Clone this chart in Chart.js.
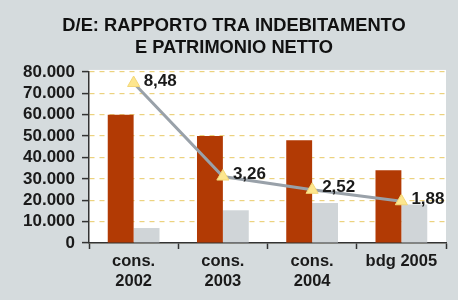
<!DOCTYPE html>
<html><head><meta charset="utf-8">
<script src="https://cdn.jsdelivr.net/npm/chart.js@4"></script>
<style>html,body{margin:0;padding:0;background:#d5dbdd;}canvas{display:block}</style>
</head><body>
<canvas id="c" width="458" height="300"></canvas>
<script>
const titleLines = ['D/E: RAPPORTO TRA INDEBITAMENTO', 'E PATRIMONIO NETTO'];
const categories = [['cons.', '2002'], ['cons.', '2003'], ['cons.', '2004'], 'bdg 2005'];
const debtValues = [60000, 50000, 48000, 34000];
const equityValues = [7000, 15300, 18700, 18000];
const deRatio = [8.48, 3.26, 2.52, 1.88];
const yMin = 0, yMax = 80000, yStep = 10000;

const fmtThousands = v => v === 0 ? '0' : String(v).replace(/\B(?=(\d{3})+(?!\d))/g, '.');
const fmtRatio = v => v.toFixed(2).replace('.', ',');
const FONT = "'Liberation Sans', Arial, sans-serif";

const bgPlugin = {
  id: 'bg',
  beforeDraw(chart) {
    const {ctx, chartArea: a} = chart;
    ctx.save();
    ctx.fillStyle = '#d5dbdd';
    ctx.fillRect(0, 0, chart.width, chart.height);
    ctx.fillStyle = '#ffffff';
    ctx.fillRect(a.left, a.top - 2, a.right - a.left, a.bottom - a.top + 2);
    ctx.restore();
  }
};

const labelPlugin = {
  id: 'ratioLabels',
  afterDatasetsDraw(chart) {
    const {ctx} = chart;
    const meta = chart.getDatasetMeta(0);
    ctx.save();
    ctx.font = "bold 17px " + FONT;
    ctx.fillStyle = '#1a1a1a';
    ctx.textAlign = 'left';
    ctx.textBaseline = 'middle';
    meta.data.forEach((pt, i) => {
      ctx.fillText(fmtRatio(deRatio[i]), pt.x + 10, pt.y - 2);
    });
    ctx.restore();
  }
};

new Chart(document.getElementById('c'), {
  data: {
    labels: categories,
    datasets: [
      {
        type: 'line', label: 'D/E', data: deRatio, yAxisID: 'y2', order: 0,
        borderColor: '#99a1a9', borderWidth: 3, tension: 0,
        pointStyle: 'triangle', pointRadius: 7,
        pointBackgroundColor: '#fde68e', pointBorderColor: '#f3d777', pointBorderWidth: 1
      },
      {
        type: 'bar', label: 'Indebitamento', data: debtValues, yAxisID: 'y', order: 1,
        backgroundColor: '#b23a04', categoryPercentage: 0.58, barPercentage: 1.0
      },
      {
        type: 'bar', label: 'Patrimonio netto', data: equityValues, yAxisID: 'y', order: 1,
        backgroundColor: '#d0d5d8', categoryPercentage: 0.58, barPercentage: 1.0
      }
    ]
  },
  options: {
    responsive: false,
    animation: false,
    layout: {padding: {left: 22, right: 12, top: 0, bottom: 0}},
    plugins: {
      legend: {display: false},
      tooltip: {enabled: false},
      title: {
        display: true, text: titleLines, color: '#111',
        font: {family: FONT, size: 18.3, weight: 'bold', lineHeight: 1.2},
        padding: {top: 15, bottom: 13}
      }
    },
    scales: {
      x: {
        grid: {offset: true, drawOnChartArea: false, drawTicks: true, tickLength: 6, tickColor: '#333', tickWidth: 1.5},
        border: {color: '#333', width: 1.5},
        ticks: {color: '#1a1a1a', font: {family: FONT, size: 16.5, weight: 'bold', lineHeight: 1.2}, padding: 3, maxRotation: 0},
        afterFit: s => { s.height = 57; }
      },
      y: {
        position: 'left', min: yMin, max: yMax,
        grid: {color: '#ecd27e', lineWidth: 1.2, drawTicks: true, tickLength: 7, tickColor: '#333', tickWidth: 1.5},
        border: {color: '#333', width: 1.5, dash: [5, 5]},
        ticks: {stepSize: yStep, autoSkip: false, color: '#1a1a1a', font: {family: FONT, size: 17, weight: 'bold'}, padding: 7, callback: v => fmtThousands(v)},
        afterFit: s => { s.width = 67; }
      },
      y2: {
        position: 'right', display: false, min: -0.45, max: 9.1
      }
    }
  },
  plugins: [bgPlugin, labelPlugin]
});
</script>
</body></html>
